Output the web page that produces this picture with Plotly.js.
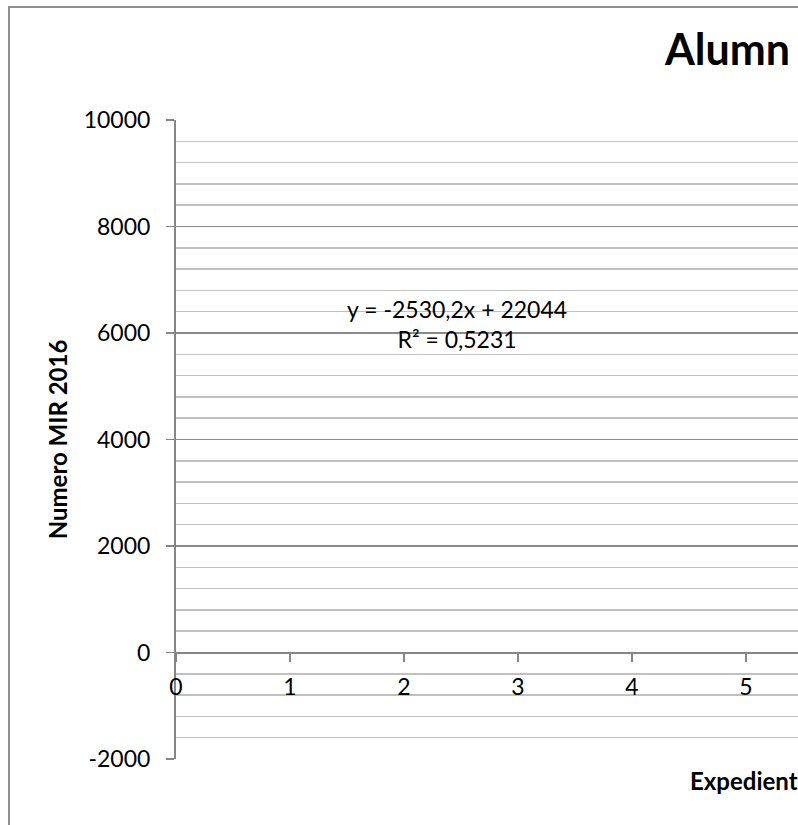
<!DOCTYPE html>
<html>
<head>
<meta charset="utf-8">
<script src="https://cdn.plot.ly/plotly-3.0.1.min.js"></script>
<style>
  html, body { margin: 0; padding: 0; background: #fff; overflow: hidden; }
  #chart { position: absolute; left: 0; top: 0; width: 798px; height: 825px; }
  #frame { position: absolute; left: 8px; top: 6px; width: 900px; height: 900px;
           border-left: 2px solid #8f8f8f; border-top: 2px solid #8f8f8f; pointer-events: none; }
</style>
</head>
<body>
<div id="chart"></div>
<div id="frame"></div>
<script>
// ---- data ----
const chartTitle = "Alumn";
const xTitle = "Expedient";
const yTitle = "Numero MIR 2016";
const xTickVals = [0, 1, 2, 3, 4, 5];
const yTickVals = [-2000, 0, 2000, 4000, 6000, 8000, 10000];
const xRange = [0, 5.456];
const yRange = [-2000, 10000];
// no data points are visible in the shown part of the chart
const seriesX = [];
const seriesY = [];
// trendline label shown in the chart
const trendSlope = "-2530,2";
const trendIntercept = "22044";
const trendR2 = "0,5231";

const font = "Lato, 'Open Sans', sans-serif";

const trace = {
  x: seriesX, y: seriesY, type: 'scatter', mode: 'markers',
  marker: { color: '#4f81bd', size: 8 }, showlegend: false, hoverinfo: 'skip'
};

const xPos = (0 - yRange[0]) / (yRange[1] - yRange[0]);

const layout = {
  width: 798, height: 825,
  margin: { l: 176, r: 0, t: 120, b: 66, pad: 0 },
  paper_bgcolor: '#ffffff', plot_bgcolor: '#ffffff',
  font: { family: font, color: '#000', size: 20 },
  showlegend: false,
  title: {
    text: '<b>' + chartTitle + '</b>',
    font: { family: font, size: 43, color: '#000' },
    xref: 'container', yref: 'container',
    x: 0.99, xanchor: 'right', y: 0.94, yanchor: 'middle'
  },
  xaxis: {
    range: xRange, tickmode: 'array', tickvals: xTickVals,
    ticktext: xTickVals.map(String),
    anchor: 'free', position: xPos,
    showgrid: false, zeroline: false,
    showline: true, linecolor: '#868686', linewidth: 2,
    ticks: 'outside', ticklen: 8, tickwidth: 1.5, tickcolor: '#868686',
    tickfont: { family: font, size: 23, color: '#000' },
    ticklabelstandoff: 6,
    fixedrange: true
  },
  yaxis: {
    range: yRange, tickmode: 'array', tickvals: yTickVals,
    ticktext: yTickVals.map(String),
    showgrid: true, gridcolor: '#8a8a8a', gridwidth: 1.5,
    minor: { dtick: 400, showgrid: true, gridcolor: '#c0c0c0', gridwidth: 1.5, ticks: '' },
    zeroline: false,
    showline: true, linecolor: '#868686', linewidth: 2,
    ticks: 'outside', ticklen: 8, tickwidth: 1.5, tickcolor: '#868686',
    tickfont: { family: font, size: 23, color: '#000' },
    ticklabelstandoff: 11,
    title: { text: '<b>' + yTitle + '</b>', font: { family: font, size: 24, color: '#000' }, standoff: 9 },
    fixedrange: true
  },
  annotations: [
    {
      xref: 'x', yref: 'y', x: 2.465, y: 6170,
      text: 'y = ' + trendSlope + 'x + ' + trendIntercept + '<br>R² = ' + trendR2,
      showarrow: false, align: 'center',
      font: { family: font, size: 23, color: '#000' }
    },
    {
      xref: 'paper', yref: 'paper', x: 1.004, xanchor: 'right', y: -0.033, yanchor: 'middle',
      text: '<b>' + xTitle + '</b>', showarrow: false,
      font: { family: font, size: 24, color: '#000' }
    }
  ]
};

Plotly.newPlot('chart', [trace], layout, { displayModeBar: false, staticPlot: true });
</script>
</body>
</html>
